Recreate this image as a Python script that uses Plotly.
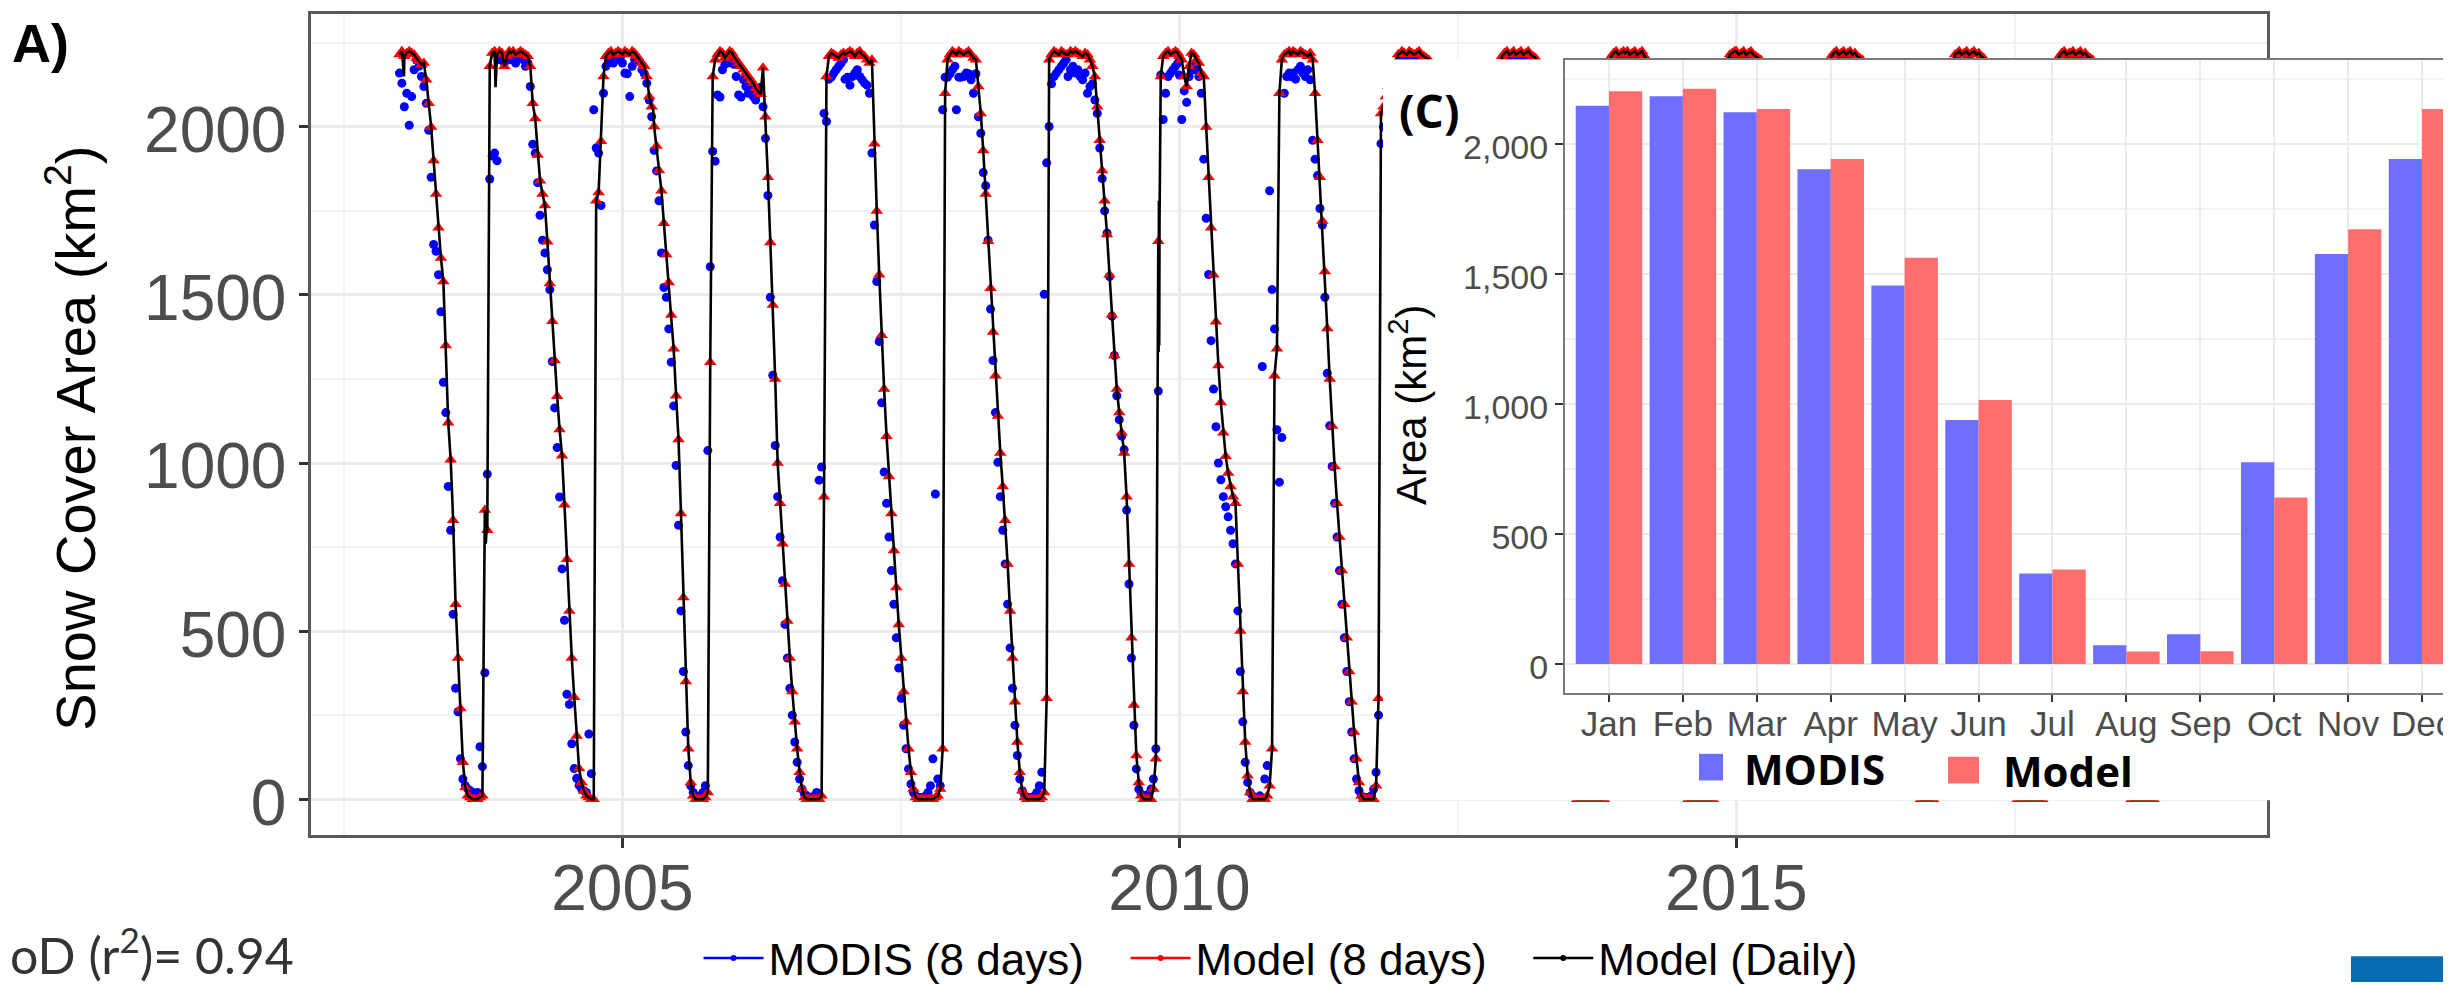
import datetime as dt
import plotly.graph_objects as go

W, H = 2451, 986

# ---------------- inset (C): monthly mean snow cover area ----------------
MONTHS = ["Jan", "Feb", "Mar", "Apr", "May", "Jun", "Jul", "Aug", "Sep", "Oct", "Nov", "Dec"]
MODIS_MONTHLY = [2148, 2185, 2123, 1904, 1457, 939, 348, 72, 114, 776, 1578, 1943]
MODEL_MONTHLY = [2204, 2214, 2136, 1943, 1563, 1016, 364, 48, 49, 641, 1673, 2136]

# ---------------- panel (A): 8-day values, 46 composites per year ----------------
YEARS = list(range(2003, 2019))

MODEL8_2003 = [2215,2225,2210,2220,2225,2220,2215,2205,2195,2185,
               2190,2140,2070,2000,1900,1800,1700,1610,1540,1350,
               1120,1010,830,580,420,270,110,35,10,5,
               0,0,0,5,10,860,800,2180,2220,2225,
               2215,2225,2220,2180,2210,2225]
MODIS8_2003 = [2160,2130,2060,2100,2005,2090,2170,2200,2180,2150,
               2120,2070,1990,1850,1650,1630,1560,1450,1240,1150,
               930,800,550,330,260,120,60,40,30,25,
               20,15,20,156,97,376,967,1845,1913,1922,
               1899,2200,2210,2190,2200,2215]
MODEL8_2004 = [2220,2225,2215,2220,2225,2220,2215,2210,2180,2070,
               2025,1916,1840,1800,1766,1658,1534,1422,1305,1199,
               1100,1022,876,714,560,420,303,188,91,50,
               24,10,5,0,0,1780,1805,1957,2150,2210,
               2220,2225,2215,2220,2225,2220]
MODIS8_2004 = [2200,2210,2190,2205,2215,2200,2180,2190,2120,1948,
               1922,1834,1737,1663,1625,1575,1516,1302,1164,1046,
               899,685,532,312,282,165,91,62,41,30,
               25,20,194,76,2051,1937,1922,1766,2100,2180,
               2200,2210,2190,2200,2215,2210]
MODEL8_2005 = [2215,2225,2220,2215,2225,2220,2210,2200,2190,2180,
               2150,2090,2060,2001,1943,1870,1810,1713,1620,1537,
               1440,1340,1200,1070,850,600,350,150,50,10,
               0,0,0,0,5,20,1300,2150,2200,2215,
               2225,2220,2205,2215,2225,2220]
MODIS8_2005 = [2190,2160,2158,2090,2180,2200,2205,2195,2170,2158,
               2130,2080,2030,1930,1869,1780,1625,1522,1493,1399,
               1300,1170,993,815,560,380,200,100,40,20,
               10,5,10,20,40,1037,1584,1927,1898,2095,
               2089,2170,2186,2190,2200,2210]
MODEL8_2006 = [2210,2200,2190,2180,2170,2160,2150,2140,2130,2115,
               2105,2097,2176,2030,1850,1656,1470,1250,1000,880,
               760,640,530,420,320,230,150,80,30,5,
               0,0,0,0,0,0,10,900,2150,2210,
               2220,2215,2210,2205,2215,2220]
MODIS8_2006 = [2186,2150,2095,2089,2140,2120,2100,2110,2090,2080,
               2100,2118,2060,1966,1796,1493,1261,1052,900,780,
               650,520,420,330,250,170,110,60,30,15,
               10,5,5,10,20,949,988,2040,2016,2142,
               2148,2160,2170,2180,2190,2200]
MODEL8_2007 = [2215,2220,2225,2220,2210,2220,2225,2215,2210,2200,
               2190,2200,1950,1750,1560,1380,1220,1080,960,850,
               740,630,520,420,320,230,150,80,30,5,
               0,0,0,0,0,0,0,5,10,30,
               150,2100,2200,2215,2225,2220]
MODIS8_2007 = [2142,2148,2124,2150,2160,2170,2150,2140,2130,2124,
               2100,1922,1708,1540,1361,1179,973,880,780,680,
               580,480,390,300,220,150,90,45,20,10,
               5,5,5,10,20,40,120,908,60,40,
               2051,2148,2148,2158,2170,2180]
MODEL8_2008 = [2215,2225,2220,2215,2220,2225,2215,2205,2200,2120,
               2040,1930,1800,1660,1520,1390,1260,1140,1030,930,
               830,700,560,420,290,170,80,25,5,0,
               0,0,0,0,0,5,20,300,2200,2215,
               2225,2220,2215,2225,2220,2215]
MODIS8_2008 = [2051,2148,2148,2150,2160,2158,2140,2100,2158,2030,
               1981,1864,1825,1663,1458,1305,1150,1002,900,800,
               700,580,450,330,220,130,60,25,10,5,
               5,5,10,20,40,80,1502,1893,2001,2128,
               2150,2160,2170,2180,2190,2200]
MODEL8_2009 = [2215,2225,2220,2225,2220,2215,2210,2220,2215,2200,
               2180,2150,2060,1960,1870,1780,1680,1560,1440,1320,
               1220,1150,1090,1030,900,700,480,280,130,50,
               10,0,0,0,0,30,120,1660,2150,2210,
               2220,2225,2215,2220,2225,2220]
MODIS8_2009 = [2150,2170,2180,2160,2170,2150,2140,2160,2100,2120,
               2128,2080,2040,1937,1846,1750,1684,1555,1437,1320,
               1200,1129,1080,1040,860,640,420,220,90,30,
               15,10,10,15,30,60,150,1214,2154,2022,
               2100,2150,2160,2170,2180,2190]
MODEL8_2010 = [2210,2200,2150,2120,2180,2220,2215,2200,2190,2160,
               2150,2000,1850,1700,1560,1420,1290,1180,1090,1020,
               970,930,900,880,700,500,320,170,70,20,
               0,0,0,0,0,0,10,40,150,1260,
               1340,2100,2200,2215,2220,2225]
MODIS8_2010 = [2154,2022,2107,2073,2150,2168,2180,2170,2150,2100,
               1904,1728,1561,1364,1220,1108,1000,950,900,870,
               840,800,760,700,560,380,230,110,50,20,
               10,5,5,10,1287,60,100,1810,1516,1399,
               1099,943,1076,2100,2150,2160]
MODEL8_2011 = [2215,2225,2220,2215,2225,2220,2215,2210,2220,2200,
               2100,1960,1850,1720,1570,1400,1250,1110,990,880,
               780,680,580,480,380,290,200,120,50,10,
               0,0,0,0,0,40,300,2040,2060,2090,
               2120,2150,2170,2190,2215,2220]
MODIS8_2011 = [2150,2160,2142,2170,2180,2160,2150,2170,2140,1960,
               1904,1855,1757,1708,1493,1267,1111,990,880,780,
               680,580,480,380,290,200,120,60,25,10,
               5,5,5,10,30,80,250,1950,2000,2050,
               2080,2100,2130,2150,2180,2200]
MODEL8_2012 = [2225,2220,2215,2225,2220,2215,2220,2225,2215,2210,
               2205,2200,2180,2100,1980,1830,1660,1480,1290,1090,
               880,680,490,320,180,80,30,15,15,15,
               20,25,30,40,60,120,400,1100,1700,2050,
               2150,2210,2220,2225,2215,2220]
MODIS8_2012 = [2200,2210,2190,2205,2180,2200,2190,2210,2170,2180,
               2160,2150,2120,2020,1900,1750,1580,1400,1210,1010,
               820,620,440,290,160,80,40,25,20,20,
               25,30,40,60,90,200,600,1300,1800,2000,
               2100,2180,2200,2190,2200,2210]
MODEL8_2013 = [2225,2215,2220,2225,2215,2220,2225,2215,2210,2205,
               2180,2100,1990,1860,1710,1550,1380,1200,1020,840,
               660,490,340,210,110,40,0,0,0,0,
               0,0,0,0,0,0,0,0,1500,2150,
               2210,2220,2225,2215,2220,2225]
MODIS8_2013 = [2190,2200,2180,2210,2195,2200,2185,2190,2170,2160,
               2120,2040,1930,1800,1650,1490,1320,1150,980,800,
               620,460,310,190,100,40,20,15,15,15,
               15,15,15,15,20,30,50,300,1600,2100,
               2180,2200,2190,2210,2200,2190]
MODEL8_2014 = [2220,2225,2215,2220,2225,2215,2220,2225,2210,2200,
               2190,2150,2060,1950,1820,1680,1530,1370,1200,1030,
               860,690,530,380,250,140,0,0,0,0,
               0,0,0,0,0,0,0,300,1200,1900,
               2150,2170,2190,2215,2220,2225]
MODIS8_2014 = [2190,2200,2185,2195,2205,2190,2200,2195,2180,2170,
               2150,2100,2010,1900,1760,1620,1470,1300,1130,960,
               790,620,470,330,210,110,30,15,15,15,
               15,15,15,15,15,15,30,500,1400,2000,
               2120,2150,2180,2200,2190,2200]
MODEL8_2015 = [2225,2215,2220,2225,2215,2220,2225,2215,2210,2205,
               2200,2140,2040,1920,1780,1630,1470,1300,1120,940,
               760,590,430,300,190,110,60,35,25,20,
               20,20,25,30,50,100,600,1500,2100,2210,
               2220,2225,2215,2220,2225,2215]
MODIS8_2015 = [2200,2190,2180,2200,2195,2205,2190,2185,2180,2170,
               2160,2100,1990,1870,1720,1570,1400,1230,1050,870,
               700,540,390,260,160,90,50,30,20,20,
               20,25,30,40,70,200,800,1600,2050,2180,
               2200,2195,2190,2200,2210,2190]
MODEL8_2016 = [2220,2225,2215,2220,2210,2205,2200,2180,2120,2040,
               1950,1850,1740,1620,1490,1350,1200,1050,900,750,
               600,460,330,220,130,60,30,15,10,8,
               0,0,0,0,0,0,100,500,1200,1800,
               2050,2120,2160,2190,2215,2220]
MODIS8_2016 = [2190,2200,2185,2200,2180,2170,2160,2140,2080,2000,
               1900,1800,1690,1560,1430,1290,1140,990,840,690,
               550,420,300,200,110,50,25,15,15,15,
               15,15,15,15,15,30,200,700,1300,1850,
               2000,2080,2130,2160,2190,2200]
MODEL8_2017 = [2225,2215,2220,2225,2215,2220,2225,2215,2220,2210,
               2205,2180,2080,1920,1740,1540,1320,1090,860,640,
               440,270,140,50,0,0,0,0,0,0,
               0,0,0,0,0,300,900,1500,1900,2100,
               2160,2210,2220,2225,2215,2220]
MODIS8_2017 = [2195,2185,2190,2200,2180,2195,2190,2185,2190,2170,
               2160,2120,2010,1860,1680,1480,1260,1030,800,590,
               400,240,120,40,15,15,15,15,15,15,
               15,15,15,15,30,500,1100,1650,1950,2120,
               2150,2180,2190,2200,2185,2195]
MODEL8_2018 = [2220,2225,2215,2220,2225,2215,2220,2210,2205,2200,
               2150,2060,1950,1820,1680,1530,1370,1200,1020,840,
               660,490,330,190,80,0,0,0,0,0,
               0,0,0,0,0,200,800,1400,1800,2000,
               2100,2130,2150,2160,2170,2180]
MODIS8_2018 = [2190,2200,2180,2195,2200,2185,2190,2175,2170,2160,
               2100,2010,1900,1770,1630,1480,1320,1150,970,790,
               610,440,290,160,60,15,15,15,15,15,
               15,15,15,15,30,350,900,1500,1850,2000,
               2080,2100,2120,2130,2140,2150]

# extra daily-model vertices between the 8-day composites (spikes, steps)
DAILY_EXTRA_DATES = ["2003-01-16", "2003-10-11", "2003-10-13", "2003-11-12",
                     "2005-04-12", "2009-10-25", "2009-10-26", "2009-10-27", "2009-10-28"]
DAILY_EXTRA_VALUES = [2150, 760, 790, 2118, 2050, 1330, 1780, 1350, 1720]

LEGEND_NAMES = ["MODIS (8 days)", "Model (8 days)", "Model (Daily)"]
LEGEND_COLORS = ["#0000FF", "#FF0000", "#000000"]

MODEL8_ALL = [MODEL8_2003, MODEL8_2004, MODEL8_2005, MODEL8_2006, MODEL8_2007, MODEL8_2008,
              MODEL8_2009, MODEL8_2010, MODEL8_2011, MODEL8_2012, MODEL8_2013, MODEL8_2014,
              MODEL8_2015, MODEL8_2016, MODEL8_2017, MODEL8_2018]
MODIS8_ALL = [MODIS8_2003, MODIS8_2004, MODIS8_2005, MODIS8_2006, MODIS8_2007, MODIS8_2008,
              MODIS8_2009, MODIS8_2010, MODIS8_2011, MODIS8_2012, MODIS8_2013, MODIS8_2014,
              MODIS8_2015, MODIS8_2016, MODIS8_2017, MODIS8_2018]

dates8, model8, modis8 = [], [], []
for year, mv, sv in zip(YEARS, MODEL8_ALL, MODIS8_ALL):
    for k in range(46):
        dates8.append(dt.date(year, 1, 1) + dt.timedelta(days=8 * k))
        model8.append(mv[k])
        modis8.append(sv[k])

daily = sorted(list(zip(dates8, model8)) +
               [(dt.date.fromisoformat(d), v) for d, v in zip(DAILY_EXTRA_DATES, DAILY_EXTRA_VALUES)])
daily_x = [d for d, _ in daily]
daily_y = [v for _, v in daily]


def px(x):
    return x / W


def py(y):
    return 1 - y / H


AX_FONT = "Liberation Sans, Arial, sans-serif"
GRID = "#EBEBEB"
MINOR_GRID = "#F3F3F3"
NB = "\u00a0"

fig = go.Figure()

# main panel traces
fig.add_trace(go.Scatter(x=dates8, y=modis8, mode="markers", showlegend=False,
                         marker=dict(color="#0000FF", size=9, line=dict(width=0)), hoverinfo="skip"))
fig.add_trace(go.Scatter(x=dates8, y=model8, mode="markers", showlegend=False,
                         marker=dict(color="#FF0000", size=11, symbol="triangle-up", line=dict(width=0)),
                         hoverinfo="skip"))
fig.add_trace(go.Scatter(x=daily_x, y=daily_y, mode="lines", showlegend=False,
                         line=dict(color="black", width=2.6), hoverinfo="skip"))

# legend keys (line + point, as in the original key)
for name, color in zip(LEGEND_NAMES, LEGEND_COLORS):
    fig.add_trace(go.Scatter(x=[None], y=[None], mode="lines+markers", name=name + NB * 3,
                             line=dict(color=color, width=2.5), marker=dict(color=color, size=6)))

# white card behind the inset (covers the main panel)
fig.add_trace(go.Scatter(x=[None], y=[None], xaxis="x2", yaxis="y2", showlegend=False, hoverinfo="skip"))

# inset bars
fig.add_trace(go.Bar(x=MONTHS, y=MODIS_MONTHLY, name="MODIS", xaxis="x3", yaxis="y3", showlegend=False,
                     marker=dict(color="rgb(110,110,255)", line=dict(width=0))))
fig.add_trace(go.Bar(x=MONTHS, y=MODEL_MONTHLY, name="Model", xaxis="x3", yaxis="y3", showlegend=False,
                     marker=dict(color="rgb(255,110,110)", line=dict(width=0))))

fig.update_layout(
    width=W, height=H,
    margin=dict(l=0, r=0, t=0, b=0),
    paper_bgcolor="white", plot_bgcolor="white",
    barmode="group", bargap=0.1, bargroupgap=0,
    xaxis=dict(domain=[px(303), px(2259)], anchor="y", type="date",
               range=["2002-03-17", "2019-10-07"],
               tickvals=["2005-01-01", "2010-01-01", "2015-01-01"], ticktext=["2005", "2010", "2015"],
               tickfont=dict(size=64, color="#4D4D4D", family=AX_FONT),
               ticks="outside", ticklen=10, tickwidth=2.5, tickcolor="#333333",
               ticklabelstandoff=-14,
               showgrid=True, gridcolor=GRID, gridwidth=2.5,
               minor=dict(tickvals=["2002-07-02", "2007-07-02", "2012-07-02", "2017-07-02"],
                          showgrid=True, gridcolor=MINOR_GRID, gridwidth=1.5, ticks=""),
               showline=True, linecolor="#5A5A5A", linewidth=2.5, mirror=True, zeroline=False),
    yaxis=dict(domain=[py(837), py(6)], anchor="x", range=[-106, 2336],
               tickvals=[0, 500, 1000, 1500, 2000],
               tickfont=dict(size=64, color="#4D4D4D", family=AX_FONT),
               ticks="outside", ticklen=9, tickwidth=2.5, tickcolor="#333333",
               ticklabelshift=3,
               showgrid=True, gridcolor=GRID, gridwidth=2.5,
               minor=dict(tickvals=[250, 750, 1250, 1750, 2250], showgrid=True,
                          gridcolor=MINOR_GRID, gridwidth=1.5, ticks=""),
               showline=True, linecolor="#5A5A5A", linewidth=2.5, mirror=True, zeroline=False),
    xaxis2=dict(domain=[px(1375), 1], anchor="y2", range=[0, 1], visible=False),
    yaxis2=dict(domain=[py(802), py(52)], anchor="x2", range=[0, 1], visible=False),
    xaxis3=dict(domain=[px(1557), 1], anchor="y3", type="category", range=[-0.595, 11.50],
                tickfont=dict(size=35, color="#4D4D4D", family=AX_FONT),
                ticks="outside", ticklen=7, tickwidth=2, tickcolor="#333333",
                ticklabelstandoff=-8,
                showgrid=True, gridcolor=GRID, gridwidth=2,
                showline=True, linecolor="#7A7A7A", linewidth=2, mirror=True, zeroline=False),
    yaxis3=dict(domain=[py(693), py(53)], anchor="x3", range=[-110, 2323],
                tickvals=[0, 500, 1000, 1500, 2000], ticktext=["0", "500", "1,000", "1,500", "2,000"],
                tickfont=dict(size=34, color="#4D4D4D", family=AX_FONT),
                ticks="outside", ticklen=8, tickwidth=2, tickcolor="#333333",
                ticklabelshift=3,
                showgrid=True, gridcolor=GRID, gridwidth=2,
                minor=dict(tickvals=[250, 750, 1250, 1750, 2250], showgrid=True,
                           gridcolor=MINOR_GRID, gridwidth=1.5, ticks=""),
                showline=True, linecolor="#7A7A7A", linewidth=2, mirror=False, zeroline=False),
    legend=dict(orientation="h", x=px(1291), xanchor="center", y=py(962), yanchor="middle",
                font=dict(size=44, family=AX_FONT, color="black"), bgcolor="rgba(0,0,0,0)",
                itemwidth=60, tracegroupgap=0),
    showlegend=True,
)

annotations = [
    dict(text="<b>A)</b>", x=px(2), y=py(3), xanchor="left", yanchor="top",
         font=dict(size=54, family=AX_FONT, color="black")),
    dict(text="Snow Cover Area (km<sup>2</sup>)", x=px(64), y=py(436), textangle=-90,
         xanchor="center", yanchor="middle", font=dict(size=56, family=AX_FONT, color="black")),
    dict(text="<b>(C)</b>", x=px(1421), y=py(103), xanchor="center", yanchor="middle",
         font=dict(size=46, family="Open Sans, sans-serif", color="black")),
    dict(text="Area (km<sup>2</sup>)", x=px(1400), y=py(402), textangle=-90,
         xanchor="center", yanchor="middle", font=dict(size=42, family=AX_FONT, color="black")),
    dict(text="<b>MODIS</b>", x=px(1734), y=py(770), xanchor="left", yanchor="middle",
         font=dict(size=42, family="Open Sans, sans-serif", color="black")),
    dict(text="<b>Model</b>", x=px(1993), y=py(772), xanchor="left", yanchor="middle",
         font=dict(size=42, family="Open Sans, sans-serif", color="black")),
    dict(text="oD (r<sup>2</sup>)= 0.94", x=px(0), y=py(955), xanchor="left", yanchor="middle",
         font=dict(size=50, family="Lato, sans-serif", color="#333333")),
]
for a in annotations:
    a.update(xref="paper", yref="paper", showarrow=False)
fig.update_layout(annotations=annotations)

shapes = [
    dict(type="rect", xref="paper", yref="paper", x0=px(1691), x1=px(1715), y0=py(782), y1=py(755),
         fillcolor="rgb(110,110,255)", line=dict(width=0), layer="above"),
    dict(type="rect", xref="paper", yref="paper", x0=px(1940), x1=px(1971), y0=py(785), y1=py(758),
         fillcolor="rgb(255,110,110)", line=dict(width=0), layer="above"),
    dict(type="rect", xref="paper", yref="paper", x0=px(2343), x1=1, y0=0, y1=py(960),
         fillcolor="#066DB3", line=dict(width=0), layer="above"),
]
fig.update_layout(shapes=shapes)

fig.write_html("out.html")
